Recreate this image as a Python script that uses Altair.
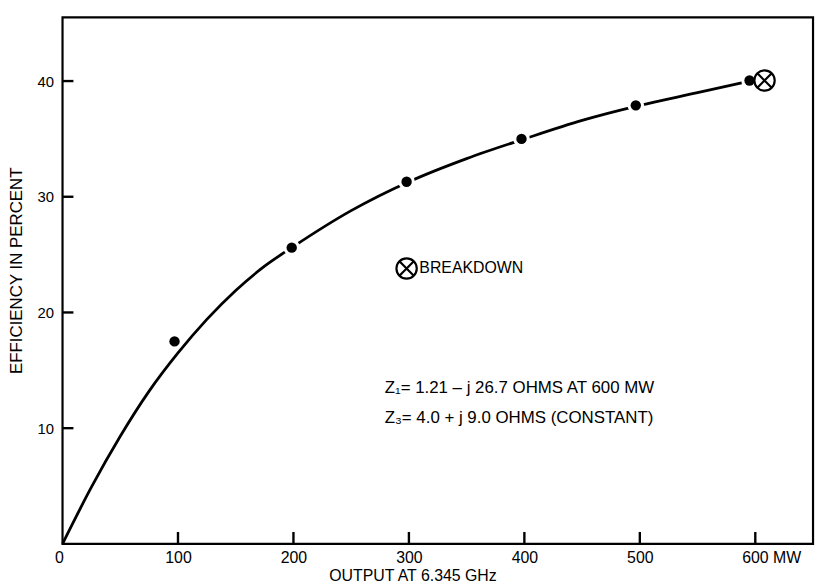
import altair as alt
import pandas as pd

# Smooth efficiency curve
curve_x = [0, 25, 50, 75, 100, 125, 150, 175, 200, 250, 300, 350, 400, 450, 500, 550, 595]
curve_y = [0, 4.9, 9.3, 13.2, 16.5, 19.4, 21.9, 24.0, 25.7, 28.8, 31.3, 33.3, 35.0, 36.6, 37.9, 39.0, 40.0]

# Measured points
meas_x = [97, 198.5, 298, 397.5, 496.5, 595]
meas_y = [17.5, 25.6, 31.3, 35.0, 37.9, 40.05]

# Breakdown marker and legend symbol
brk_x = [608]
brk_y = [40.05]
legend_sym_x = [298]
legend_sym_y = [23.8]

x_ticks = [100, 200, 300, 400, 500, 600]
x_labels = [0, 100, 200, 300, 400, 500, 600]
y_ticks = [10, 20, 30, 40]

notes = ["BREAKDOWN", "Z₁= 1.21 – j 26.7 OHMS AT 600 MW", "Z₃= 4.0 + j 9.0 OHMS (CONSTANT)"]
notes_x = [309, 279, 279]
notes_y = [23.8, 13.5, 10.9]
notes_size = [16, 17, 17]

W, H = 757, 531
FONT = "Liberation Sans"
X_MAX, Y_MAX = 650, 45.5
XTICK_LEN = 12 * Y_MAX / H   # inward tick length (12 px) in data units
YTICK_LEN = 11 * X_MAX / W   # inward tick length (11 px) in data units

xs = alt.Scale(domain=[0, X_MAX], nice=False, zero=True)
ys = alt.Scale(domain=[0, Y_MAX], nice=False, zero=True)

curve_df = pd.DataFrame({"x": curve_x, "y": curve_y})
meas_df = pd.DataFrame({"x": meas_x, "y": meas_y})
brk_df = pd.DataFrame({"x": brk_x + legend_sym_x, "y": brk_y + legend_sym_y})
notes_df = pd.DataFrame({"t": notes, "x": notes_x, "y": notes_y, "s": notes_size})

# inward tick segments built from the tick lists
tick_rows = []
for v in x_ticks:
    tick_rows.append({"k": f"x{v}", "x": v, "y": 0})
    tick_rows.append({"k": f"x{v}", "x": v, "y": XTICK_LEN})
for v in y_ticks:
    tick_rows.append({"k": f"y{v}", "x": 0, "y": v})
    tick_rows.append({"k": f"y{v}", "x": YTICK_LEN, "y": v})
ticks_df = pd.DataFrame(tick_rows)

x_axis = alt.Axis(
    values=x_labels, ticks=False, domain=False, grid=False,
    labelExpr="datum.value == 600 ? '600 MW' : datum.label",
    labelOffset={"condition": [{"test": "datum.value == 600", "value": 16},
                               {"test": "datum.value == 0", "value": -8}], "value": 0},
    labelFont=FONT, labelFontSize=16, labelColor="black", labelPadding=6,
    title="OUTPUT AT 6.345 GHz", titleFont=FONT, titleFontSize=16,
    titleFontWeight="normal", titleColor="black", titleX=353, titleY=24,
    titleAlign="center", titleBaseline="top",
)
y_axis = alt.Axis(
    values=y_ticks, ticks=False, domain=False, grid=False,
    labelFont=FONT, labelFontSize=15, labelColor="black", labelPadding=9,
    title="EFFICIENCY IN PERCENT", titleFont=FONT, titleFontSize=17,
    titleFontWeight="normal", titleColor="black", titleX=-46, titleY=255,
    titleAlign="center", titleBaseline="middle",
)

base_x = alt.X("x:Q", scale=xs, axis=x_axis)
base_y = alt.Y("y:Q", scale=ys, axis=y_axis)

curve = alt.Chart(curve_df).mark_line(
    color="black", strokeWidth=2.8, interpolate="monotone"
).encode(x=base_x, y=base_y)

tick_lines = alt.Chart(ticks_df).mark_line(
    color="black", strokeWidth=2.4
).encode(x=alt.X("x:Q", scale=xs), y=alt.Y("y:Q", scale=ys), detail="k:N")

halo = alt.Chart(meas_df).mark_point(
    filled=True, color="white", size=280, opacity=1, shape="circle"
).encode(x=alt.X("x:Q", scale=xs), y=alt.Y("y:Q", scale=ys))

dots = alt.Chart(meas_df).mark_point(
    filled=True, color="black", size=110, opacity=1, shape="circle"
).encode(x=alt.X("x:Q", scale=xs), y=alt.Y("y:Q", scale=ys))

otimes_path = ("M1,0A1,1,0,1,1,-1,0A1,1,0,1,1,1,0Z"
               "M-0.707,-0.707L0.707,0.707M-0.707,0.707L0.707,-0.707")
brk = alt.Chart(brk_df).mark_point(
    shape=otimes_path, filled=False, color="black", strokeWidth=2.2, size=420, opacity=1
).encode(x=alt.X("x:Q", scale=xs), y=alt.Y("y:Q", scale=ys))

text = alt.Chart(notes_df).mark_text(
    align="left", baseline="middle", font=FONT, color="black"
).encode(
    x=alt.X("x:Q", scale=xs), y=alt.Y("y:Q", scale=ys), text="t:N",
    size=alt.Size("s:Q", scale=None, legend=None),
)

chart = alt.layer(curve, tick_lines, halo, dots, brk, text).properties(
    width=W, height=H, autosize="none", background="white",
    padding={"left": 55, "top": 7, "right": 3, "bottom": 40},
).configure_view(stroke="black", strokeWidth=2.2)

chart.save("out.html", embed_options={"renderer": "svg", "actions": False})
